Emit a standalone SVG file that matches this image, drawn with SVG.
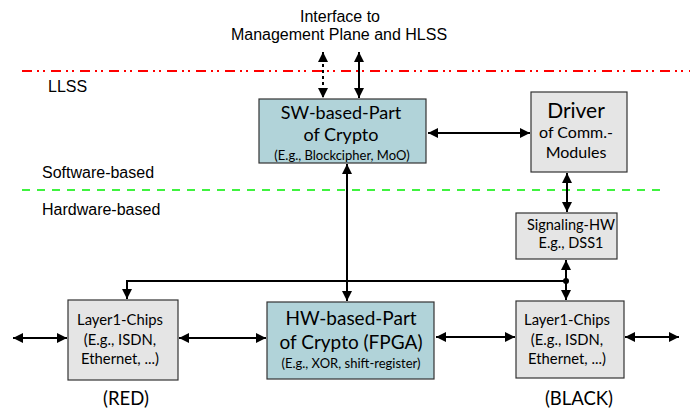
<svg xmlns="http://www.w3.org/2000/svg" width="690" height="414" viewBox="0 0 690 414">
<style>
.lbl{font-family:"Liberation Sans",Arial,sans-serif;fill:#000;}
.gs{font-family:Lato,"Open Sans",sans-serif;fill:#000;text-anchor:middle;}
.box{stroke:#333;stroke-width:1.2;}
.teal{fill:#b1d3d9;}
.gray{fill:#e5e5e5;}
.ln{stroke:#000;stroke-width:2;fill:none;}
</style>
<defs>
<marker id="ah" viewBox="0 0 10 10" refX="10" refY="5" markerWidth="10" markerHeight="10" markerUnits="userSpaceOnUse" orient="auto-start-reverse">
<path d="M0,0 L10,5 L0,10 Z" fill="#000"/>
</marker>
</defs>
<rect width="690" height="414" fill="#fff"/>
<g id="labels">
<text class="lbl" x="340" y="22" font-size="16" text-anchor="middle">Interface to</text>
<text class="lbl" x="339" y="40" font-size="16" text-anchor="middle">Management Plane and HLSS</text>
<text class="lbl" x="48" y="92" font-size="16">LLSS</text>
<text class="lbl" x="42" y="178" font-size="16">Software-based</text>
<text class="lbl" x="42" y="215" font-size="16">Hardware-based</text>
<text class="gs" x="126" y="405" font-size="18.5">(RED)</text>
<text class="gs" x="579" y="405" font-size="18.5">(BLACK)</text>
</g>
<g id="boundaries">
<line x1="22" y1="71" x2="690" y2="71" stroke="#f00" stroke-width="2" stroke-dasharray="10 5 2 4 2 6"/>
<line x1="22" y1="190" x2="664" y2="190" stroke="#0e0" stroke-width="1.5" stroke-dasharray="8 7"/>
</g>
<g id="connectors">
<line class="ln" x1="323" y1="52" x2="323" y2="98" stroke-width="1.5" stroke-dasharray="3 3" marker-start="url(#ah)" marker-end="url(#ah)"/>
<line class="ln" x1="359" y1="52" x2="359" y2="98" marker-start="url(#ah)" marker-end="url(#ah)"/>
<line class="ln" x1="428" y1="133" x2="530" y2="133" marker-start="url(#ah)" marker-end="url(#ah)"/>
<line class="ln" x1="567" y1="173" x2="567" y2="212" marker-start="url(#ah)" marker-end="url(#ah)"/>
<line class="ln" x1="347" y1="164" x2="347" y2="301" marker-start="url(#ah)" marker-end="url(#ah)"/>
<polyline class="ln" points="566,281 127,281 127,299" marker-end="url(#ah)"/>
<line class="ln" x1="566" y1="260" x2="566" y2="300" marker-start="url(#ah)" marker-end="url(#ah)"/>
<circle cx="566" cy="281" r="3" fill="#000"/>
<line class="ln" x1="13" y1="338" x2="67" y2="338" marker-start="url(#ah)" marker-end="url(#ah)"/>
<line class="ln" x1="179" y1="338" x2="266" y2="338" marker-start="url(#ah)" marker-end="url(#ah)"/>
<line class="ln" x1="436" y1="337" x2="515" y2="337" marker-start="url(#ah)" marker-end="url(#ah)"/>
<line class="ln" x1="625" y1="337" x2="679" y2="337" marker-start="url(#ah)" marker-end="url(#ah)"/>
</g>
<g id="sw-crypto">
<rect class="box teal" x="259" y="99" width="167" height="64"/>
<text class="gs" x="341" y="119" font-size="18">SW-based-Part</text>
<text class="gs" x="341" y="141" font-size="18">of Crypto</text>
<text class="gs" x="342" y="160" font-size="13">(E.g., Blockcipher, MoO)</text>
</g>
<g id="driver">
<rect class="box gray" x="531" y="92" width="96" height="80"/>
<text class="gs" x="576" y="118" font-size="21">Driver</text>
<text class="gs" x="576" y="138" font-size="16">of Comm.-</text>
<text class="gs" x="576" y="158" font-size="16">Modules</text>
</g>
<g id="signaling">
<rect class="box gray" x="516" y="213" width="101" height="46"/>
<text class="gs" x="571" y="230" font-size="14.5">Signaling-HW</text>
<text class="gs" x="571" y="248" font-size="14.5">E.g., DSS1</text>
</g>
<g id="layer1-red">
<rect class="box gray" x="68" y="300" width="110" height="80"/>
<text class="gs" x="120" y="325" font-size="14.8">Layer1-Chips</text>
<text class="gs" x="120" y="345" font-size="14.8">(E.g.,  ISDN,</text>
<text class="gs" x="120" y="364" font-size="14.8">Ethernet, ...)</text>
</g>
<g id="hw-crypto">
<rect class="box teal" x="267" y="302" width="167" height="77"/>
<text class="gs" x="351" y="325" font-size="19">HW-based-Part</text>
<text class="gs" x="351" y="349" font-size="19">of Crypto (FPGA)</text>
<text class="gs" x="351" y="368" font-size="13">(E.g., XOR, shift-register)</text>
</g>
<g id="layer1-black">
<rect class="box gray" x="516" y="301" width="108" height="77"/>
<text class="gs" x="567" y="325" font-size="14.8">Layer1-Chips</text>
<text class="gs" x="567" y="345" font-size="14.8">(E.g., ISDN,</text>
<text class="gs" x="567" y="364" font-size="14.8">Ethernet, ...)</text>
</g>
</svg>
